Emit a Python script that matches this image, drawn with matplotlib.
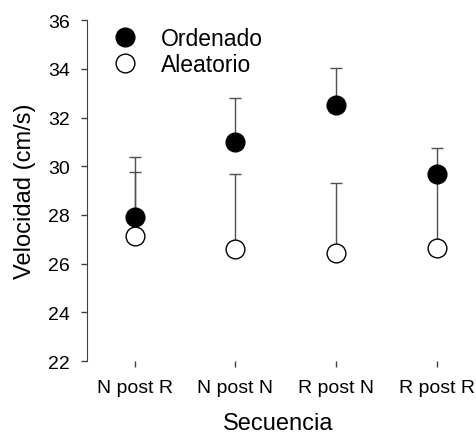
import numpy as np
import matplotlib.pyplot as plt

plt.rcParams['font.family'] = ['Liberation Sans', 'DejaVu Sans']

secuencias = ['N post R', 'N post N', 'R post N', 'R post R']
ordenado = [27.9, 31.0, 32.5, 29.7]
ordenado_err = [2.5, 1.8, 1.55, 1.05]
aleatorio = [27.15, 26.6, 26.45, 26.65]
aleatorio_err = [2.6, 3.1, 2.85, 2.8]

x = np.arange(1, len(secuencias) + 1)

fig = plt.figure(figsize=(4.77, 4.39), dpi=100)
ax = fig.add_axes([0.182, 0.175, 0.803, 0.777])

bar_clr = '#505050'
# only the upper half of each error bar is drawn
ax.errorbar(x, aleatorio, yerr=[np.zeros(len(x)), aleatorio_err], fmt='none',
            ecolor=bar_clr, elinewidth=1, capsize=4, capthick=1, zorder=1)
ax.errorbar(x, ordenado, yerr=[np.zeros(len(x)), ordenado_err], fmt='none',
            ecolor=bar_clr, elinewidth=1, capsize=4, capthick=1, zorder=1)
ax.plot(x, aleatorio, 'o', ms=13.5, mfc='white', mec='black', mew=1,
        label='Aleatorio', zorder=2)
ax.plot(x, ordenado, 'o', ms=13.5, mfc='black', mec='black', mew=1,
        label='Ordenado', zorder=3)

ax.set_xlim(0.523, 4.33)
ax.set_ylim(22, 36)
ax.set_yticks(np.arange(22, 37, 2))
ax.set_xticks(x)
ax.set_xticklabels(secuencias)

for side in ('top', 'right', 'bottom'):
    ax.spines[side].set_visible(False)
ax.spines['left'].set_color('#404040')
ax.tick_params(axis='y', length=4, width=1, color='#404040', pad=8, labelsize=14)
ax.tick_params(axis='x', length=4, width=1, color='#404040', pad=9, labelsize=14)

ax.set_ylabel('Velocidad (cm/s)', fontsize=17, labelpad=9)
ax.set_xlabel('Secuencia', fontsize=17, labelpad=11)

h, l = ax.get_legend_handles_labels()
ax.legend(h[::-1], l[::-1], loc='upper left', bbox_to_anchor=(0.01, 1.04),
          frameon=False, fontsize=16.5, handletextpad=0.95, labelspacing=0.12,
          handlelength=1.2)

fig.savefig('out.png', dpi=100)
